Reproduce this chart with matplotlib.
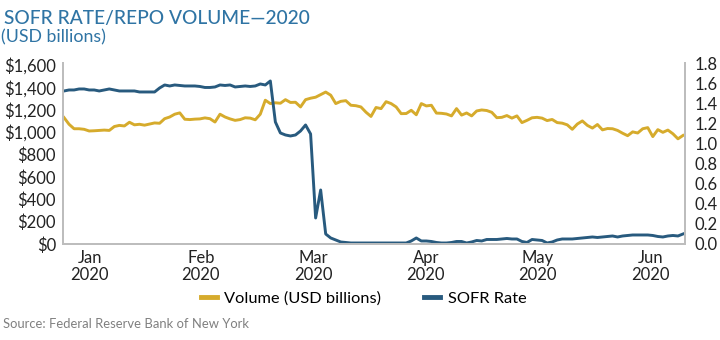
import matplotlib
matplotlib.use('Agg')
import matplotlib.pyplot as plt

# daily repo volume (USD billions) and SOFR (%), business days Jan 2 - Jun 30 2020
volume = [1130, 1070, 1030, 1030, 1025, 1010, 1012, 1015, 1018, 1015,
          1050, 1060, 1055, 1088, 1065, 1070, 1062, 1072, 1082, 1079,
          1120, 1135, 1160, 1172, 1115, 1112, 1116, 1118, 1127, 1120,
          1090, 1160, 1135, 1118, 1105, 1112, 1128, 1125, 1110, 1160,
          1285, 1255, 1262, 1258, 1290, 1265, 1267, 1225, 1290, 1303,
          1312, 1335, 1358, 1330, 1255, 1275, 1281, 1240, 1236, 1225,
          1178, 1140, 1220, 1210, 1272, 1255, 1225, 1165, 1166, 1195,
          1155, 1255, 1234, 1240, 1170, 1168, 1162, 1145, 1210, 1152,
          1171, 1145, 1189, 1198, 1193, 1177, 1129, 1132, 1148, 1125,
          1145, 1085, 1105, 1128, 1132, 1125, 1103, 1113, 1085, 1080,
          1065, 1025, 1072, 1100, 1060, 1036, 1068, 1020, 1032, 1030,
          1015, 990, 968, 1002, 992, 1030, 1040, 960, 1022, 998,
          1018, 985, 940, 970]

sofr = [1.53, 1.54, 1.54, 1.55, 1.55, 1.54, 1.54, 1.53, 1.54, 1.55,
        1.54, 1.53, 1.53, 1.53, 1.53, 1.52, 1.52, 1.52, 1.52, 1.56,
        1.59, 1.58, 1.59, 1.585, 1.58, 1.58, 1.58, 1.575, 1.565, 1.565,
        1.57, 1.59, 1.585, 1.59, 1.57, 1.575, 1.58, 1.575, 1.58, 1.60,
        1.59, 1.63, 1.22, 1.11, 1.09, 1.08, 1.09, 1.13, 1.19, 1.10,
        0.26, 0.54, 0.10, 0.06, 0.04, 0.02, 0.015, 0.01, 0.01, 0.01,
        0.01, 0.01, 0.01, 0.01, 0.01, 0.01, 0.01, 0.01, 0.01, 0.03,
        0.06, 0.03, 0.03, 0.025, 0.015, 0.01, 0.01, 0.015, 0.025, 0.025,
        0.01, 0.02, 0.035, 0.03, 0.045, 0.045, 0.045, 0.05, 0.055, 0.05,
        0.05, 0.025, 0.015, 0.045, 0.04, 0.035, 0.01, 0.02, 0.04, 0.05,
        0.05, 0.05, 0.055, 0.06, 0.065, 0.07, 0.065, 0.07, 0.075, 0.08,
        0.07, 0.08, 0.085, 0.09, 0.09, 0.09, 0.09, 0.085, 0.075, 0.07,
        0.08, 0.085, 0.08, 0.10]

month_labels = ['Jan\n2020', 'Feb\n2020', 'Mar\n2020', 'Apr\n2020', 'May\n2020', 'Jun\n2020']
month_ticks = [5.1, 27.2, 49.5, 71.9, 94.1, 116.5]
volume_ticks = [0, 200, 400, 600, 800, 1000, 1200, 1400, 1600]
rate_ticks = [0.0, 0.2, 0.4, 0.6, 0.8, 1.0, 1.2, 1.4, 1.6, 1.8]

GOLD = '#d6ab2c'
NAVY = '#285a7e'
TITLE_BLUE = '#2f74a4'
SPINE = '#bdbdbd'

plt.rcParams['font.family'] = ['Lato', 'DejaVu Sans']


def plot_values():
    fig = plt.figure(figsize=(7.2, 3.4), dpi=100)
    ax = fig.add_axes([0.0875, 0.2824, 0.8639, 0.5324])
    ax2 = ax.twinx()

    x = range(len(volume))
    ln1, = ax.plot(x, volume, color=GOLD, lw=2.1, label='Volume (USD billions)')
    ln2, = ax2.plot(x, sofr, color=NAVY, lw=2.1, label='SOFR Rate')

    ax.set_xlim(-0.2, 123.4)
    ax.set_ylim(0, 1618)
    ax2.set_ylim(0, 1.81)

    ax.set_yticks(volume_ticks)
    ax.set_yticklabels(['${:,}'.format(v) for v in volume_ticks])
    ax2.set_yticks(rate_ticks)
    ax2.set_yticklabels(['{:.1f}'.format(v) for v in rate_ticks])
    ax.set_xticks(month_ticks)
    ax.set_xticklabels(month_labels, linespacing=1.1)

    for a in (ax, ax2):
        a.spines['top'].set_visible(False)
        for side in ('left', 'right', 'bottom'):
            a.spines[side].set_color(SPINE)
            a.spines[side].set_linewidth(1.4)
        a.tick_params(length=0, labelsize=12, colors='#222222')
    ax.tick_params(axis='y', pad=5)
    ax.tick_params(axis='x', pad=4)
    ax2.tick_params(axis='y', pad=7)

    fig.text(0.006, 0.945, 'SOFR RATE/REPO VOLUME\u20142020', color=TITLE_BLUE,
             fontsize=13.8, fontweight='medium', va='center', ha='left')
    fig.text(0.002, 0.889, '(USD billions)', color=TITLE_BLUE,
             fontsize=12.8, va='center', ha='left')

    fig.legend([ln1, ln2], ['Volume (USD billions)', 'SOFR Rate'],
               loc='center', bbox_to_anchor=(0.505, 0.122), ncol=2,
               frameon=False, fontsize=11.8, handlelength=1.0,
               handletextpad=0.45, columnspacing=2.6)
    for line in fig.legends[0].get_lines():
        line.set_linewidth(3.5)

    fig.text(0.004, 0.048, 'Source: Federal Reserve Bank of New York',
             color='#808080', fontsize=9.4, va='center', ha='left')

    fig.savefig('out.png', dpi=100)


def main():
    plot_values()


if __name__ == "__main__":
    main()
